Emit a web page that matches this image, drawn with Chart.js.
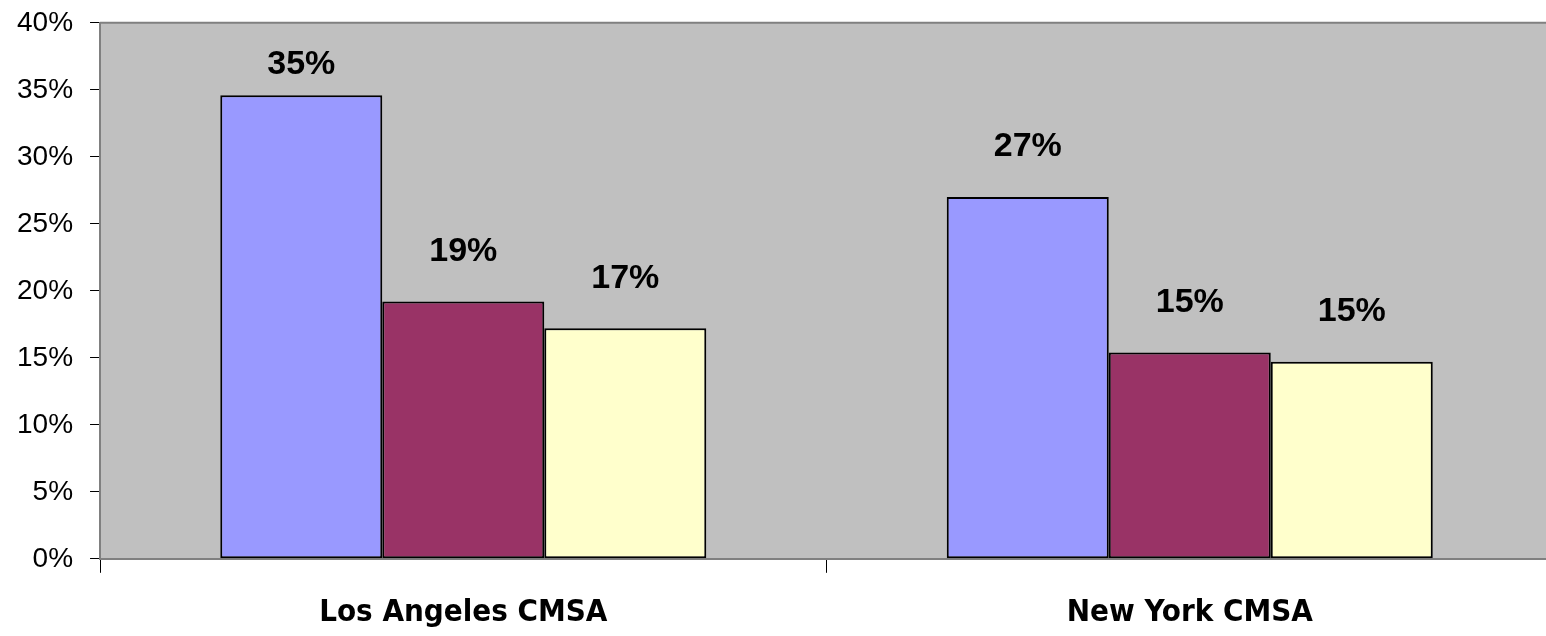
<!DOCTYPE html>
<html>
<head>
<meta charset="utf-8">
<script src="https://cdn.jsdelivr.net/npm/chart.js@4/dist/chart.umd.min.js"></script>
<style>
    body { margin: 0; background: #fff; overflow: hidden; }
    .wrap { position: relative; width: 1553px; height: 648px; margin-top: -11px; }
</style>
</head>
<body>
<div class="wrap"><canvas id="myChart"></canvas></div>
<script>
const categories = ["Los Angeles CMSA", "New York CMSA"];
const series_names = ["Series1", "Series2", "Series3"];
const series1 = [34.6, 27.0];
const series2 = [19.2, 15.4];
const series3 = [17.2, 14.7];
const y_ticks = [0, 5, 10, 15, 20, 25, 30, 35, 40];

const colors = ["#9999FF", "#993366", "#FFFFCC"];

// gray plot area + top border line
const plotArea = {
    id: "plotArea",
    beforeDraw(chart) {
        const { ctx, chartArea: a } = chart;
        ctx.save();
        ctx.fillStyle = "#C0C0C0";
        ctx.fillRect(a.left, a.top, a.right - a.left, a.bottom - a.top);
        ctx.strokeStyle = "#808080";
        ctx.lineWidth = 2;
        ctx.beginPath();
        ctx.moveTo(a.left, a.top);
        ctx.lineTo(a.right, a.top);
        ctx.stroke();
        ctx.restore();
    }
};

// value labels above the bars
const barLabels = {
    id: "barLabels",
    afterDatasetsDraw(chart) {
        const { ctx, chartArea: a } = chart;
        ctx.save();
        ctx.font = "bold 34px 'Liberation Sans', Arial, sans-serif";
        ctx.fillStyle = "#000";
        ctx.textAlign = "center";
        ctx.textBaseline = "middle";
        chart.data.datasets.forEach((ds, i) => {
            chart.getDatasetMeta(i).data.forEach((bar, j) => {
                let y = Math.max(bar.y - 50, a.top + 42);
                ctx.fillText(Math.round(ds.data[j]) + "%", bar.x, y);
            });
        });
        ctx.restore();
    }
};

const data = {
    labels: categories,
    datasets: [series1, series2, series3].map((vals, i) => ({
        label: series_names[i],
        data: vals,
        backgroundColor: colors[i],
        borderColor: "#000",
        borderWidth: 2,
        borderSkipped: false,
        categoryPercentage: 0.669,
        barPercentage: 1.0,
    })),
};

const config = {
    type: "bar",
    data: data,
    options: {
        responsive: true,
        maintainAspectRatio: false,
        animation: false,
        layout: { padding: { top: -6, left: 0, right: 0, bottom: -17 } },
        plugins: {
            legend: { display: false },
            tooltip: { enabled: false },
        },
        scales: {
            x: {
                grid: {
                    drawOnChartArea: false,
                    drawTicks: true,
                    tickLength: 14,
                    color: "#000",
                    offset: true,
                },
                border: { color: "#808080", width: 2 },
                ticks: {
                    color: "#000",
                    padding: 22,
                    font: { family: "'DejaVu Sans Condensed', 'DejaVu Sans', sans-serif", size: 31, weight: "bold" },
                },
            },
            y: {
                min: 0,
                max: 40,
                afterBuildTicks(axis) {
                    axis.ticks = y_ticks.map(v => ({ value: v }));
                },
                grid: {
                    drawOnChartArea: false,
                    drawTicks: true,
                    tickLength: 10,
                    color: "#000",
                },
                border: { color: "#808080", width: 2 },
                ticks: {
                    color: "#000",
                    padding: 17,
                    callback: v => v + "%",
                    font: { family: "'Liberation Sans', Arial, sans-serif", size: 28 },
                },
            },
        },
    },
    plugins: [plotArea, barLabels],
};

const myChart = new Chart(document.getElementById("myChart"), config);
</script>
</body>
</html>
